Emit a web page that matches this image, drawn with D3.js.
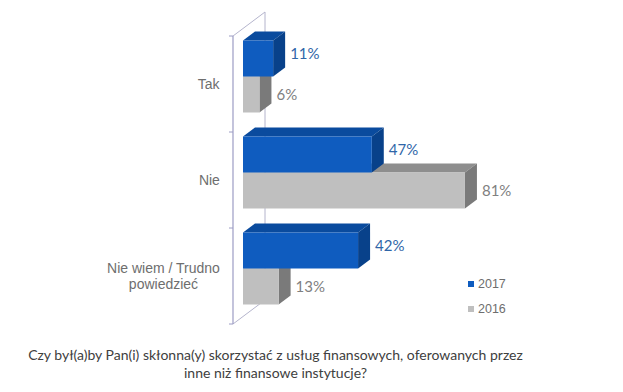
<!DOCTYPE html>
<html><head><meta charset="utf-8">
<script src="https://cdn.jsdelivr.net/npm/d3@7"></script>
<style>html,body{margin:0;padding:0;background:#fff;}svg{display:block;}</style>
</head><body>
<svg id="c" width="623" height="392"></svg>
<script>
const categories = ["Tak", "Nie", "Nie wiem / Trudno powiedzieć"];
const seriesNames = ["2017", "2016"];
const values2017 = [11, 47, 42];
const values2016 = [6, 81, 13];
const xTicks = [0, 100];
const title = ["Czy był(a)by Pan(i) skłonna(y) skorzystać z usług finansowych, oferowanych przez", "inne niż finansowe instytucje?"];

const svg = d3.select("#c");
const x0 = 233;
const depth = {dx: 32, dy: -24};
const barOff = {dx: 10, dy: -7.5};
const barDepth = {dx: 12, dy: -9};

const x = d3.scaleLinear().domain(d3.extent(xTicks)).range([x0, x0 + 274]);
const y = d3.scaleBand().domain(categories).range([36, 324]).paddingInner(0.25).paddingOuter(0.125);
const ySub = d3.scaleBand().domain(seriesNames).range([0, y.bandwidth()]);

const colors = {
  "2017": {front: "#0f5cbf", top: "#0a4b9e", side: "#08418a", label: "#2f66a8", legend: "#0f5cbf"},
  "2016": {front: "#bfbfbf", top: "#8e8e8e", side: "#7a7a7a", label: "#808080", legend: "#bfbfbf"}
};

// walls
const wallColor = "#b4b4cc";
const yTop = y.range()[0], yBot = y.range()[1];
const g = svg.append("g");
g.append("line").attr("x1", x0 + depth.dx).attr("x2", x0 + depth.dx).attr("y1", yTop + depth.dy).attr("y2", yBot + depth.dy).attr("stroke", wallColor).attr("stroke-width", 1);
g.append("line").attr("x1", x0).attr("x2", x0 + depth.dx).attr("y1", yTop).attr("y2", yTop + depth.dy).attr("stroke", wallColor);
g.append("line").attr("x1", x0).attr("x2", x0 + depth.dx).attr("y1", yBot).attr("y2", yBot + depth.dy).attr("stroke", wallColor);
g.append("line").attr("x1", x0).attr("x2", x0).attr("y1", yTop).attr("y2", yBot).attr("stroke", "#9c9cc4").attr("stroke-width", 1.2);
const step = y.step();
const bounds = d3.range(categories.length + 1).map(i => yTop + i * step);
g.selectAll(".tk").data(bounds).enter().append("line")
  .attr("x1", x0 - 4).attr("x2", x0).attr("y1", d => d).attr("y2", d => d).attr("stroke", "#9c9cc4");

// bars
const rows = [];
categories.forEach((c, i) => {
  rows.push({cat: c, s: "2016", v: values2016[i]});
  rows.push({cat: c, s: "2017", v: values2017[i]});
});
rows.sort((a, b) => (y(b.cat) + ySub(b.s)) - (y(a.cat) + ySub(a.s)));

const bars = svg.append("g");
rows.forEach(r => {
  const bx0 = x(0) + barOff.dx;
  const bx1 = x(r.v) + barOff.dx;
  const by0 = y(r.cat) + ySub(r.s) + barOff.dy;
  const by1 = by0 + ySub.bandwidth();
  const c = colors[r.s];
  const dx = barDepth.dx, dy = barDepth.dy;
  bars.append("path").attr("d", `M${bx0},${by0}L${bx0+dx},${by0+dy}L${bx1+dx},${by0+dy}L${bx1},${by0}Z`).attr("fill", c.top);
  bars.append("path").attr("d", `M${bx1},${by0}L${bx1+dx},${by0+dy}L${bx1+dx},${by1+dy}L${bx1},${by1}Z`).attr("fill", c.side);
  bars.append("rect").attr("x", bx0).attr("y", by0).attr("width", bx1 - bx0).attr("height", by1 - by0).attr("fill", c.front);
  const ly = (by0 + by1) / 2 + (r.s === "2017" ? -4.5 : 0);
  bars.append("text").attr("x", bx1 + dx + 5).attr("y", ly).attr("dy", "0.35em")
    .attr("font-family", "Lato, sans-serif").attr("font-size", 15).attr("fill", c.label)
    .text(r.v + "%");
});

// category labels
const catG = svg.append("g").attr("font-family", "'Liberation Sans', Arial, sans-serif").attr("font-size", 14).attr("fill", "#6e6e6e");
categories.forEach(c => {
  const cy = y(c) + y.bandwidth() / 2;
  let lines = [c];
  if (c.length > 12) {
    const idx = c.lastIndexOf(" ");
    lines = [c.slice(0, idx), c.slice(idx + 1)];
  }
  const t = catG.append("text").attr("text-anchor", "middle");
  const lh = 16;
  lines.forEach((ln, i) => {
    t.append("tspan").attr("x", 0).attr("y", cy + (i - (lines.length - 1) / 2) * lh).attr("dy", "0.35em").text(ln);
  });
  const w = t.node().getBBox().width;
  t.attr("transform", `translate(${220 - w / 2},0)`);
});

// legend
const leg = svg.append("g").attr("font-family", "'Liberation Sans', Arial, sans-serif").attr("font-size", 12.5).attr("fill", "#6e6e6e");
seriesNames.forEach((s, i) => {
  const ly = 284 + i * 25;
  leg.append("rect").attr("x", 468).attr("y", ly - 3).attr("width", 6).attr("height", 6).attr("fill", colors[s].legend);
  leg.append("text").attr("x", 478).attr("y", ly).attr("dy", "0.35em").text(s);
});

// title
const tt = svg.append("text").attr("text-anchor", "middle").attr("font-family", "Lato, sans-serif").attr("font-size", 14).attr("fill", "#404040");
title.forEach((ln, i) => {
  tt.append("tspan").attr("x", 275.5).attr("y", 355 + i * 18).attr("dy", "0.35em").text(ln);
});
</script>
</body></html>
